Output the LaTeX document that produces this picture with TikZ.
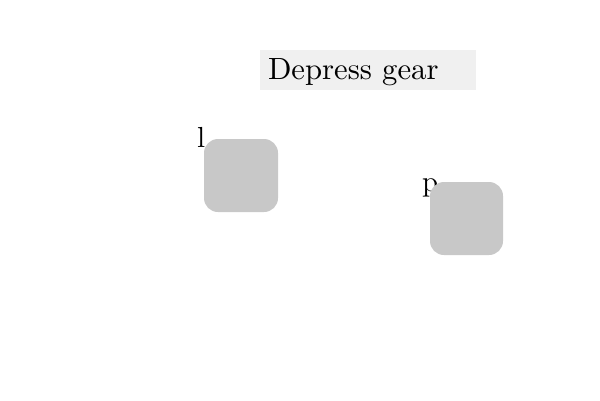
\documentclass[tikz,border=0pt]{standalone}
\begin{document}
\begin{tikzpicture}[x=1pt,y=-1pt,
  lbl/.style={inner sep=0pt,outer sep=0pt,anchor=base west,font=\fontsize{10}{12}\selectfont},
  sq/.style={fill=squaregray,rounded corners=14pt,draw=none}]
\definecolor{squaregray}{HTML}{C8C8C8}
\definecolor{titlegray}{HTML}{F0F0F0}
\useasboundingbox (0,0) rectangle (600,400);
\fill[titlegray] (260,50) rectangle (476,90);
\node[lbl] (title) at (268,79) {\scalebox{3.07}{Depress gear}};
\node[lbl] (l) at (197,147) {\scalebox{2.9}{l}};
\node[lbl] (p) at (422,191) {\scalebox{2.9}{p}};
\node[sq,minimum width=74pt,minimum height=73pt,inner sep=0pt] (box1) at (241,175.5) {};
\node[sq,minimum width=73pt,minimum height=73pt,inner sep=0pt] (box2) at (466.5,218.5) {};
\end{tikzpicture}
\end{document}
